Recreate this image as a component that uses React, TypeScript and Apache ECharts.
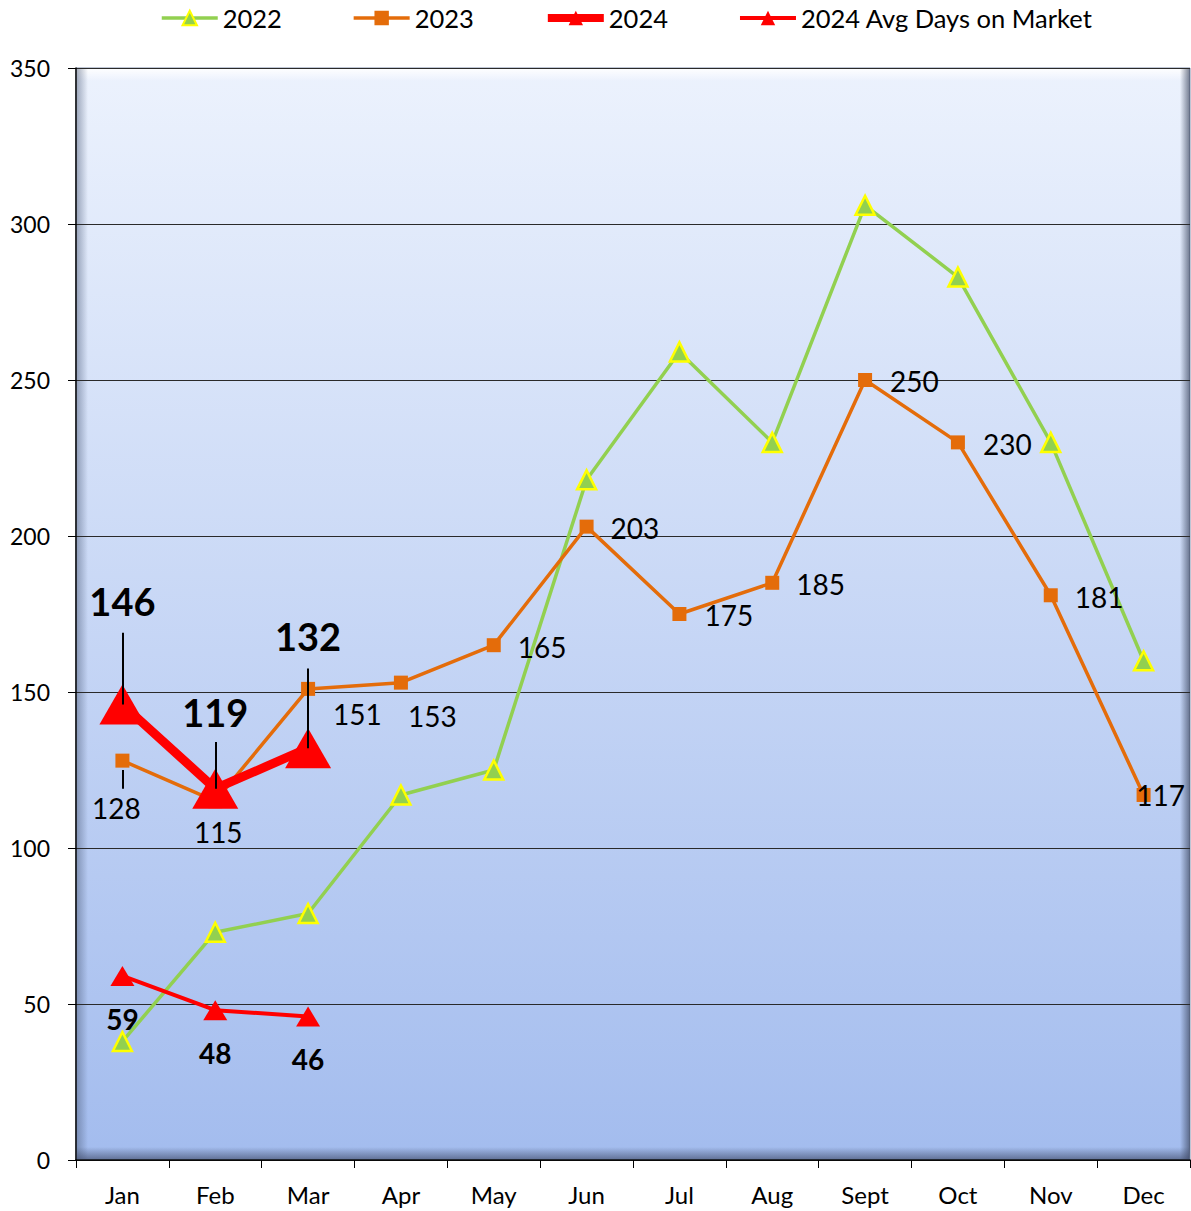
import React, { useEffect, useRef } from "react";
import * as echarts from "echarts";

const months = ["Jan", "Feb", "Mar", "Apr", "May", "Jun", "Jul", "Aug", "Sept", "Oct", "Nov", "Dec"];
const s2022 = [38, 73, 79, 117, 125, 218, 259, 230, 306, 283, 230, 160];
const s2023 = [128, 115, 151, 153, 165, 203, 175, 185, 250, 230, 181, 117];
const s2024 = [146, 119, 132];
const sDom = [59, 48, 46];
const legendNames = ["2022", "2023", "2024", "2024 Avg Days on Market"];

const FONT = "Lato";
const GREEN = "#92d050";
const ORANGE = "#e46c0a";
const RED = "#ff0000";

export default function App() {
  const ref = useRef<HTMLDivElement>(null);
  useEffect(() => {
    const chart = echarts.init(ref.current!, null, { renderer: "svg" });

    const lab2023: any[] = [
      { position: "bottom", distance: 26, offset: [-6, 0] },
      { position: "bottom", distance: 10, offset: [3, 0] },
      { position: "right", distance: 18, offset: [0, 25] },
      { position: "right", distance: 0, offset: [0, 33] },
      { position: "right", distance: 17, offset: [0, 2] },
      { position: "right", distance: 17, offset: [0, 1] },
      { position: "right", distance: 18, offset: [0, 1] },
      { position: "right", distance: 17, offset: [0, 1] },
      { position: "right", distance: 18, offset: [0, 1] },
      { position: "right", distance: 18, offset: [0, 2] },
      { position: "right", distance: 17, offset: [0, 2] },
      { position: "inside", offset: [17, 0] },
    ];
    const data2023 = s2023.map((v, i) => ({ value: v, label: lab2023[i] }));
    const dist2024 = [64, 38, 73];
    const lead2024 = [23, 15, 25.5];
    const data2024 = s2024.map((v, i) => ({
      value: v,
      label: { position: "top", distance: dist2024[i] },
    }));

    const leaders: any[] = s2024.map((v, i) => [
      { coord: [months[i], v] },
      { coord: [months[i], v + lead2024[i]] },
    ]);

    const legendWidths = [3.5, 3.5, 8, 4];

    const GL = 76, GT = 68, GR = 1190, GB = 1160;

    chart.setOption({
      animation: false,
      textStyle: { fontFamily: FONT },
      legend: {
        top: 0,
        left: 155,
        itemWidth: 56,
        itemHeight: 18,
        itemGap: 70,
        textStyle: { fontSize: 25.5, color: "#000", fontFamily: FONT },
        data: legendNames.map((n, i) => ({ name: n, lineStyle: { width: legendWidths[i] } })),
      },
      grid: {
        left: GL,
        right: 1191 - GR,
        top: GT,
        bottom: 1211 - GB,
        show: true,
        borderColor: "#7d8cab",
        borderWidth: 1,
        backgroundColor: new echarts.graphic.LinearGradient(0, 0, 0, 1, [
          { offset: 0, color: "#ecf2fd" },
          { offset: 1, color: "#a3bcee" },
        ]),
      },
      graphic: [
        {
          type: "rect",
          z: 1,
          silent: true,
          shape: { x: GL + 1, y: GT + 1, width: GR - GL - 2, height: 12 },
          style: {
            fill: new echarts.graphic.LinearGradient(0, 0, 0, 1, [
              { offset: 0, color: "rgba(255,255,255,0.9)" },
              { offset: 1, color: "rgba(255,255,255,0)" },
            ]),
          },
        },
        {
          type: "rect",
          z: 1,
          silent: true,
          shape: { x: GL + 1, y: GT + 1, width: 11, height: GB - GT - 2 },
          style: {
            fill: new echarts.graphic.LinearGradient(0, 0, 1, 0, [
              { offset: 0, color: "rgba(70,85,115,0.45)" },
              { offset: 1, color: "rgba(70,85,115,0)" },
            ]),
          },
        },
        {
          type: "rect",
          z: 1,
          silent: true,
          shape: { x: GR - 10, y: GT + 1, width: 10, height: GB - GT - 2 },
          style: {
            fill: new echarts.graphic.LinearGradient(0, 0, 1, 0, [
              { offset: 0, color: "rgba(60,70,95,0)" },
              { offset: 1, color: "rgba(60,70,95,0.7)" },
            ]),
          },
        },
        {
          type: "rect",
          z: 1,
          silent: true,
          shape: { x: GL + 1, y: GB - 13, width: GR - GL - 2, height: 12 },
          style: {
            fill: new echarts.graphic.LinearGradient(0, 0, 0, 1, [
              { offset: 0, color: "rgba(60,70,100,0)" },
              { offset: 1, color: "rgba(60,70,100,0.6)" },
            ]),
          },
        },
      ],
      xAxis: {
        type: "category",
        data: months,
        boundaryGap: true,
        axisLine: { lineStyle: { color: "#000", width: 1.5 } },
        axisTick: { show: true, length: 8, lineStyle: { color: "#000" } },
        axisLabel: { fontSize: 24, color: "#000", margin: 22, fontFamily: FONT },
        z: 3,
      },
      yAxis: {
        type: "value",
        min: 0,
        max: 350,
        interval: 50,
        axisLine: { show: true, lineStyle: { color: "#000", width: 1.5 } },
        axisTick: { show: true, length: 8, lineStyle: { color: "#000" } },
        axisLabel: { fontSize: 23, color: "#000", margin: 26, fontFamily: FONT },
        splitLine: { show: true, lineStyle: { color: "#2a2a2a", width: 1 } },
        z: 3,
      },
      series: [
        {
          name: "2022",
          type: "line",
          data: s2022,
          symbol: "triangle",
          symbolSize: 19,
          lineStyle: { color: GREEN, width: 3.5 },
          itemStyle: { color: GREEN, borderColor: "#ffff00", borderWidth: 2.5 },
          z: 4,
        },
        {
          name: "2023",
          type: "line",
          data: data2023,
          symbol: "rect",
          symbolSize: 14,
          lineStyle: { color: ORANGE, width: 3.5 },
          itemStyle: { color: ORANGE },
          label: { show: true, fontSize: 28, color: "#000", fontFamily: FONT },
          z: 5,
          markLine: {
            silent: true,
            symbol: "none",
            label: { show: false },
            lineStyle: { color: "#000", width: 2, type: "solid" },
            data: [
              [{ coord: ["Jan", 125] }, { coord: ["Jan", 119] }],
              [{ coord: ["Mar", 148] }, { coord: ["Mar", 144] }],
            ],
          },
        },
        {
          name: "2024",
          type: "line",
          data: data2024,
          symbol: "triangle",
          symbolSize: [46, 40],
          lineStyle: { color: RED, width: 9 },
          itemStyle: { color: RED },
          label: { show: true, fontSize: 38, fontWeight: "bold", color: "#000", fontFamily: FONT },
          z: 6,
          markLine: {
            silent: true,
            symbol: "none",
            label: { show: false },
            lineStyle: { color: "#000", width: 2, type: "solid" },
            data: leaders,
            z: 10,
          },
        },
        {
          name: "2024 Avg Days on Market",
          type: "line",
          data: sDom,
          symbol: "triangle",
          symbolSize: [24, 20],
          lineStyle: { color: RED, width: 4 },
          itemStyle: { color: RED },
          label: {
            show: true,
            position: "bottom",
            distance: 19,
            fontSize: 28,
            fontWeight: "bold",
            color: "#000",
            fontFamily: FONT,
          },
          z: 7,
        },
      ],
    });
    return () => chart.dispose();
  }, []);
  return <div ref={ref} style={{ width: 1191, height: 1211, position: "absolute", left: 0, top: 0 }} />;
}
